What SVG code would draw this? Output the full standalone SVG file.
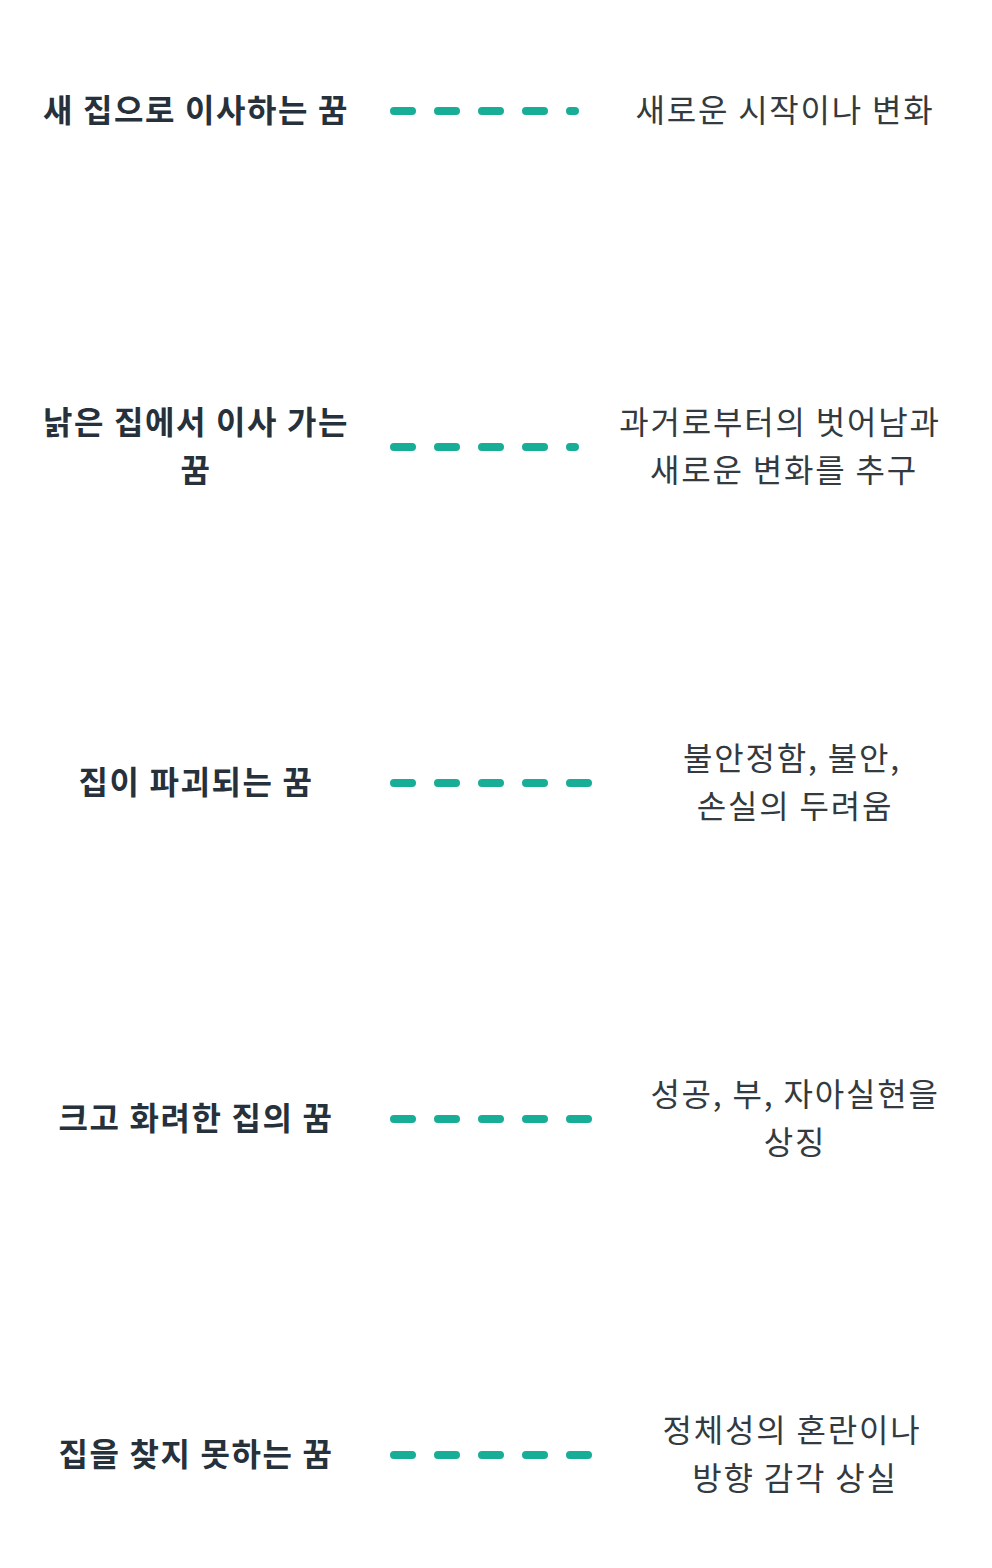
<svg xmlns="http://www.w3.org/2000/svg" width="992" height="1568" viewBox="0 0 992 1568">
<style>
.l{font-family:"Noto Sans CJK KR","Noto Sans",sans-serif;font-size:32px;font-weight:700;fill:#26313b;text-anchor:middle;letter-spacing:1.6px}
.r{font-family:"Noto Sans CJK KR","Noto Sans",sans-serif;font-size:32px;font-weight:400;fill:#333a40;text-anchor:middle;letter-spacing:1.8px}
.c{stroke:#17ad97;stroke-width:8;stroke-linecap:round;stroke-dasharray:18 26;fill:none}
</style>
<rect width="992" height="1568" fill="#fff"/>
<g id="connectors">
<line class="c" x1="394" y1="111" x2="575" y2="111"/>
<line class="c" x1="394" y1="447" x2="575" y2="447"/>
<line class="c" x1="394" y1="783" x2="592" y2="783"/>
<line class="c" x1="394" y1="1119" x2="592" y2="1119"/>
<line class="c" x1="394" y1="1455" x2="592" y2="1455"/>
</g>
<g id="n1"><text class="l" x="196" y="122">새 집으로 이사하는 꿈</text><text class="r" x="785" y="122">새로운 시작이나 변화</text></g>
<g id="n2"><text class="l" x="196" y="434">낡은 집에서 이사 가는</text><text class="l" x="196" y="482">꿈</text><text class="r" x="780" y="434">과거로부터의 벗어남과</text><text class="r" x="784" y="482">새로운 변화를 추구</text></g>
<g id="n3"><text class="l" x="196" y="794">집이 파괴되는 꿈</text><text class="r" x="792" y="770">불안정함, 불안,</text><text class="r" x="795" y="818">손실의 두려움</text></g>
<g id="n4"><text class="l" x="196" y="1130">크고 화려한 집의 꿈</text><text class="r" x="795" y="1106">성공, 부, 자아실현을</text><text class="r" x="795" y="1154">상징</text></g>
<g id="n5"><text class="l" x="196" y="1466">집을 찾지 못하는 꿈</text><text class="r" x="792" y="1442">정체성의 혼란이나</text><text class="r" x="795" y="1490">방향 감각 상실</text></g>
</svg>
